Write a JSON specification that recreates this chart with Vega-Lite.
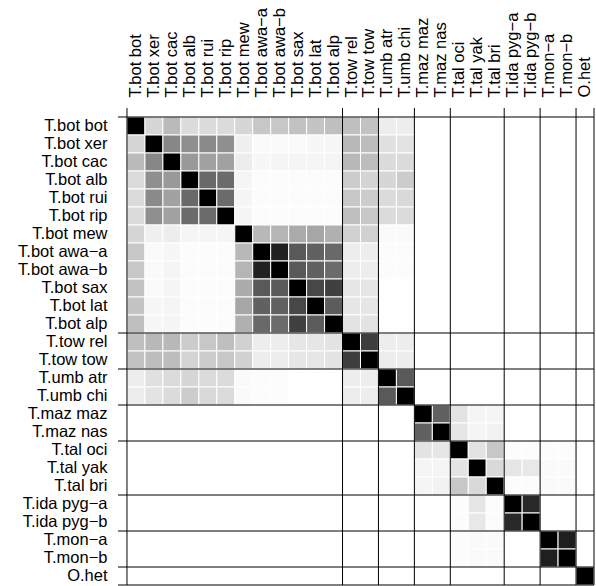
{
  "$schema": "https://vega.github.io/schema/vega-lite/v6.json",
  "autosize": "none",
  "padding": {"left": 118, "top": 108, "right": 2, "bottom": 1},
  "width": 476,
  "height": 477,
  "background": "white",
  "config": {
    "view": {"stroke": null},
    "axis": {"ticks": false, "domain": false, "grid": false, "labelFont": "Liberation Sans", "labelFontSize": 16.5, "labelColor": "black", "labelPadding": 11, "title": null, "labelOverlap": false, "labelLimit": 0}
  },
  "datasets": {
    "cells": [
      {"r":"T.bot bot","c":"T.bot bot","v":1},{"r":"T.bot bot","c":"T.bot xer","v":0.16},{"r":"T.bot bot","c":"T.bot cac","v":0.27},{"r":"T.bot bot","c":"T.bot alb","v":0.14},{"r":"T.bot bot","c":"T.bot rui","v":0.14},{"r":"T.bot bot","c":"T.bot rip","v":0.14},{"r":"T.bot bot","c":"T.bot mew","v":0.16},{"r":"T.bot bot","c":"T.bot awa−a","v":0.22},{"r":"T.bot bot","c":"T.bot awa−b","v":0.22},{"r":"T.bot bot","c":"T.bot sax","v":0.24},{"r":"T.bot bot","c":"T.bot lat","v":0.23},{"r":"T.bot bot","c":"T.bot alp","v":0.25},{"r":"T.bot bot","c":"T.tow rel","v":0.25},{"r":"T.bot bot","c":"T.tow tow","v":0.24},{"r":"T.bot bot","c":"T.umb atr","v":0.07},{"r":"T.bot bot","c":"T.umb chi","v":0.07},
      {"r":"T.bot xer","c":"T.bot bot","v":0.16},{"r":"T.bot xer","c":"T.bot xer","v":1},{"r":"T.bot xer","c":"T.bot cac","v":0.47},{"r":"T.bot xer","c":"T.bot alb","v":0.44},{"r":"T.bot xer","c":"T.bot rui","v":0.46},{"r":"T.bot xer","c":"T.bot rip","v":0.44},{"r":"T.bot xer","c":"T.bot mew","v":0.06},{"r":"T.bot xer","c":"T.bot awa−a","v":0.02},{"r":"T.bot xer","c":"T.bot awa−b","v":0.02},{"r":"T.bot xer","c":"T.bot sax","v":0.02},{"r":"T.bot xer","c":"T.bot lat","v":0.03},{"r":"T.bot xer","c":"T.bot alp","v":0.03},{"r":"T.bot xer","c":"T.tow rel","v":0.28},{"r":"T.bot xer","c":"T.tow tow","v":0.26},{"r":"T.bot xer","c":"T.umb atr","v":0.12},{"r":"T.bot xer","c":"T.umb chi","v":0.11},
      {"r":"T.bot cac","c":"T.bot bot","v":0.27},{"r":"T.bot cac","c":"T.bot xer","v":0.47},{"r":"T.bot cac","c":"T.bot cac","v":1},{"r":"T.bot cac","c":"T.bot alb","v":0.40},{"r":"T.bot cac","c":"T.bot rui","v":0.37},{"r":"T.bot cac","c":"T.bot rip","v":0.37},{"r":"T.bot cac","c":"T.bot mew","v":0.07},{"r":"T.bot cac","c":"T.bot awa−a","v":0.03},{"r":"T.bot cac","c":"T.bot awa−b","v":0.04},{"r":"T.bot cac","c":"T.bot sax","v":0.04},{"r":"T.bot cac","c":"T.bot lat","v":0.04},{"r":"T.bot cac","c":"T.bot alp","v":0.04},{"r":"T.bot cac","c":"T.tow rel","v":0.28},{"r":"T.bot cac","c":"T.tow tow","v":0.26},{"r":"T.bot cac","c":"T.umb atr","v":0.14},{"r":"T.bot cac","c":"T.umb chi","v":0.14},
      {"r":"T.bot alb","c":"T.bot bot","v":0.14},{"r":"T.bot alb","c":"T.bot xer","v":0.44},{"r":"T.bot alb","c":"T.bot cac","v":0.40},{"r":"T.bot alb","c":"T.bot alb","v":1},{"r":"T.bot alb","c":"T.bot rui","v":0.59},{"r":"T.bot alb","c":"T.bot rip","v":0.58},{"r":"T.bot alb","c":"T.bot mew","v":0.04},{"r":"T.bot alb","c":"T.bot awa−a","v":0.01},{"r":"T.bot alb","c":"T.bot awa−b","v":0.01},{"r":"T.bot alb","c":"T.bot sax","v":0.01},{"r":"T.bot alb","c":"T.bot lat","v":0.01},{"r":"T.bot alb","c":"T.bot alp","v":0.01},{"r":"T.bot alb","c":"T.tow rel","v":0.20},{"r":"T.bot alb","c":"T.tow tow","v":0.17},{"r":"T.bot alb","c":"T.umb atr","v":0.16},{"r":"T.bot alb","c":"T.umb chi","v":0.20},
      {"r":"T.bot rui","c":"T.bot bot","v":0.14},{"r":"T.bot rui","c":"T.bot xer","v":0.46},{"r":"T.bot rui","c":"T.bot cac","v":0.37},{"r":"T.bot rui","c":"T.bot alb","v":0.59},{"r":"T.bot rui","c":"T.bot rui","v":1},{"r":"T.bot rui","c":"T.bot rip","v":0.58},{"r":"T.bot rui","c":"T.bot mew","v":0.04},{"r":"T.bot rui","c":"T.bot awa−a","v":0.01},{"r":"T.bot rui","c":"T.bot awa−b","v":0.01},{"r":"T.bot rui","c":"T.bot sax","v":0.01},{"r":"T.bot rui","c":"T.bot lat","v":0.01},{"r":"T.bot rui","c":"T.bot alp","v":0.01},{"r":"T.bot rui","c":"T.tow rel","v":0.22},{"r":"T.bot rui","c":"T.tow tow","v":0.20},{"r":"T.bot rui","c":"T.umb atr","v":0.14},{"r":"T.bot rui","c":"T.umb chi","v":0.15},
      {"r":"T.bot rip","c":"T.bot bot","v":0.14},{"r":"T.bot rip","c":"T.bot xer","v":0.44},{"r":"T.bot rip","c":"T.bot cac","v":0.37},{"r":"T.bot rip","c":"T.bot alb","v":0.58},{"r":"T.bot rip","c":"T.bot rui","v":0.58},{"r":"T.bot rip","c":"T.bot rip","v":1},{"r":"T.bot rip","c":"T.bot mew","v":0.04},{"r":"T.bot rip","c":"T.bot awa−a","v":0.01},{"r":"T.bot rip","c":"T.bot awa−b","v":0.01},{"r":"T.bot rip","c":"T.bot sax","v":0.01},{"r":"T.bot rip","c":"T.bot lat","v":0.01},{"r":"T.bot rip","c":"T.bot alp","v":0.01},{"r":"T.bot rip","c":"T.tow rel","v":0.25},{"r":"T.bot rip","c":"T.tow tow","v":0.22},{"r":"T.bot rip","c":"T.umb atr","v":0.14},{"r":"T.bot rip","c":"T.umb chi","v":0.14},
      {"r":"T.bot mew","c":"T.bot bot","v":0.16},{"r":"T.bot mew","c":"T.bot xer","v":0.06},{"r":"T.bot mew","c":"T.bot cac","v":0.07},{"r":"T.bot mew","c":"T.bot alb","v":0.04},{"r":"T.bot mew","c":"T.bot rui","v":0.04},{"r":"T.bot mew","c":"T.bot rip","v":0.04},{"r":"T.bot mew","c":"T.bot mew","v":1},{"r":"T.bot mew","c":"T.bot awa−a","v":0.28},{"r":"T.bot mew","c":"T.bot awa−b","v":0.29},{"r":"T.bot mew","c":"T.bot sax","v":0.33},{"r":"T.bot mew","c":"T.bot lat","v":0.35},{"r":"T.bot mew","c":"T.bot alp","v":0.31},{"r":"T.bot mew","c":"T.tow rel","v":0.18},{"r":"T.bot mew","c":"T.tow tow","v":0.18},{"r":"T.bot mew","c":"T.umb atr","v":0.02},{"r":"T.bot mew","c":"T.umb chi","v":0.02},
      {"r":"T.bot awa−a","c":"T.bot bot","v":0.22},{"r":"T.bot awa−a","c":"T.bot xer","v":0.02},{"r":"T.bot awa−a","c":"T.bot cac","v":0.03},{"r":"T.bot awa−a","c":"T.bot alb","v":0.01},{"r":"T.bot awa−a","c":"T.bot rui","v":0.01},{"r":"T.bot awa−a","c":"T.bot rip","v":0.01},{"r":"T.bot awa−a","c":"T.bot mew","v":0.28},{"r":"T.bot awa−a","c":"T.bot awa−a","v":1},{"r":"T.bot awa−a","c":"T.bot awa−b","v":0.87},{"r":"T.bot awa−a","c":"T.bot sax","v":0.65},{"r":"T.bot awa−a","c":"T.bot lat","v":0.62},{"r":"T.bot awa−a","c":"T.bot alp","v":0.59},{"r":"T.bot awa−a","c":"T.tow rel","v":0.07},{"r":"T.bot awa−a","c":"T.tow tow","v":0.07},{"r":"T.bot awa−a","c":"T.umb atr","v":0.01},{"r":"T.bot awa−a","c":"T.umb chi","v":0.01},
      {"r":"T.bot awa−b","c":"T.bot bot","v":0.22},{"r":"T.bot awa−b","c":"T.bot xer","v":0.02},{"r":"T.bot awa−b","c":"T.bot cac","v":0.04},{"r":"T.bot awa−b","c":"T.bot alb","v":0.01},{"r":"T.bot awa−b","c":"T.bot rui","v":0.01},{"r":"T.bot awa−b","c":"T.bot rip","v":0.01},{"r":"T.bot awa−b","c":"T.bot mew","v":0.29},{"r":"T.bot awa−b","c":"T.bot awa−a","v":0.87},{"r":"T.bot awa−b","c":"T.bot awa−b","v":1},{"r":"T.bot awa−b","c":"T.bot sax","v":0.65},{"r":"T.bot awa−b","c":"T.bot lat","v":0.62},{"r":"T.bot awa−b","c":"T.bot alp","v":0.58},{"r":"T.bot awa−b","c":"T.tow rel","v":0.07},{"r":"T.bot awa−b","c":"T.tow tow","v":0.07},{"r":"T.bot awa−b","c":"T.umb atr","v":0.01},{"r":"T.bot awa−b","c":"T.umb chi","v":0.01},
      {"r":"T.bot sax","c":"T.bot bot","v":0.24},{"r":"T.bot sax","c":"T.bot xer","v":0.02},{"r":"T.bot sax","c":"T.bot cac","v":0.04},{"r":"T.bot sax","c":"T.bot alb","v":0.01},{"r":"T.bot sax","c":"T.bot rui","v":0.01},{"r":"T.bot sax","c":"T.bot rip","v":0.01},{"r":"T.bot sax","c":"T.bot mew","v":0.33},{"r":"T.bot sax","c":"T.bot awa−a","v":0.65},{"r":"T.bot sax","c":"T.bot awa−b","v":0.65},{"r":"T.bot sax","c":"T.bot sax","v":1},{"r":"T.bot sax","c":"T.bot lat","v":0.72},{"r":"T.bot sax","c":"T.bot alp","v":0.75},{"r":"T.bot sax","c":"T.tow rel","v":0.10},{"r":"T.bot sax","c":"T.tow tow","v":0.10},
      {"r":"T.bot lat","c":"T.bot bot","v":0.23},{"r":"T.bot lat","c":"T.bot xer","v":0.03},{"r":"T.bot lat","c":"T.bot cac","v":0.04},{"r":"T.bot lat","c":"T.bot alb","v":0.01},{"r":"T.bot lat","c":"T.bot rui","v":0.01},{"r":"T.bot lat","c":"T.bot rip","v":0.01},{"r":"T.bot lat","c":"T.bot mew","v":0.35},{"r":"T.bot lat","c":"T.bot awa−a","v":0.62},{"r":"T.bot lat","c":"T.bot awa−b","v":0.62},{"r":"T.bot lat","c":"T.bot sax","v":0.72},{"r":"T.bot lat","c":"T.bot lat","v":1},{"r":"T.bot lat","c":"T.bot alp","v":0.64},{"r":"T.bot lat","c":"T.tow rel","v":0.10},{"r":"T.bot lat","c":"T.tow tow","v":0.10},
      {"r":"T.bot alp","c":"T.bot bot","v":0.25},{"r":"T.bot alp","c":"T.bot xer","v":0.03},{"r":"T.bot alp","c":"T.bot cac","v":0.04},{"r":"T.bot alp","c":"T.bot alb","v":0.01},{"r":"T.bot alp","c":"T.bot rui","v":0.01},{"r":"T.bot alp","c":"T.bot rip","v":0.01},{"r":"T.bot alp","c":"T.bot mew","v":0.31},{"r":"T.bot alp","c":"T.bot awa−a","v":0.59},{"r":"T.bot alp","c":"T.bot awa−b","v":0.58},{"r":"T.bot alp","c":"T.bot sax","v":0.75},{"r":"T.bot alp","c":"T.bot lat","v":0.64},{"r":"T.bot alp","c":"T.bot alp","v":1},{"r":"T.bot alp","c":"T.tow rel","v":0.11},{"r":"T.bot alp","c":"T.tow tow","v":0.11},
      {"r":"T.tow rel","c":"T.bot bot","v":0.25},{"r":"T.tow rel","c":"T.bot xer","v":0.28},{"r":"T.tow rel","c":"T.bot cac","v":0.28},{"r":"T.tow rel","c":"T.bot alb","v":0.20},{"r":"T.tow rel","c":"T.bot rui","v":0.22},{"r":"T.tow rel","c":"T.bot rip","v":0.25},{"r":"T.tow rel","c":"T.bot mew","v":0.18},{"r":"T.tow rel","c":"T.bot awa−a","v":0.07},{"r":"T.tow rel","c":"T.bot awa−b","v":0.07},{"r":"T.tow rel","c":"T.bot sax","v":0.10},{"r":"T.tow rel","c":"T.bot lat","v":0.10},{"r":"T.tow rel","c":"T.bot alp","v":0.11},{"r":"T.tow rel","c":"T.tow rel","v":1},{"r":"T.tow rel","c":"T.tow tow","v":0.76},{"r":"T.tow rel","c":"T.umb atr","v":0.07},{"r":"T.tow rel","c":"T.umb chi","v":0.07},
      {"r":"T.tow tow","c":"T.bot bot","v":0.24},{"r":"T.tow tow","c":"T.bot xer","v":0.26},{"r":"T.tow tow","c":"T.bot cac","v":0.26},{"r":"T.tow tow","c":"T.bot alb","v":0.17},{"r":"T.tow tow","c":"T.bot rui","v":0.20},{"r":"T.tow tow","c":"T.bot rip","v":0.22},{"r":"T.tow tow","c":"T.bot mew","v":0.18},{"r":"T.tow tow","c":"T.bot awa−a","v":0.07},{"r":"T.tow tow","c":"T.bot awa−b","v":0.07},{"r":"T.tow tow","c":"T.bot sax","v":0.10},{"r":"T.tow tow","c":"T.bot lat","v":0.10},{"r":"T.tow tow","c":"T.bot alp","v":0.11},{"r":"T.tow tow","c":"T.tow rel","v":0.76},{"r":"T.tow tow","c":"T.tow tow","v":1},{"r":"T.tow tow","c":"T.umb atr","v":0.07},{"r":"T.tow tow","c":"T.umb chi","v":0.07},
      {"r":"T.umb atr","c":"T.bot bot","v":0.07},{"r":"T.umb atr","c":"T.bot xer","v":0.12},{"r":"T.umb atr","c":"T.bot cac","v":0.14},{"r":"T.umb atr","c":"T.bot alb","v":0.16},{"r":"T.umb atr","c":"T.bot rui","v":0.14},{"r":"T.umb atr","c":"T.bot rip","v":0.14},{"r":"T.umb atr","c":"T.bot mew","v":0.02},{"r":"T.umb atr","c":"T.bot awa−a","v":0.01},{"r":"T.umb atr","c":"T.bot awa−b","v":0.01},{"r":"T.umb atr","c":"T.tow rel","v":0.07},{"r":"T.umb atr","c":"T.tow tow","v":0.07},{"r":"T.umb atr","c":"T.umb atr","v":1},{"r":"T.umb atr","c":"T.umb chi","v":0.65},
      {"r":"T.umb chi","c":"T.bot bot","v":0.07},{"r":"T.umb chi","c":"T.bot xer","v":0.11},{"r":"T.umb chi","c":"T.bot cac","v":0.14},{"r":"T.umb chi","c":"T.bot alb","v":0.20},{"r":"T.umb chi","c":"T.bot rui","v":0.15},{"r":"T.umb chi","c":"T.bot rip","v":0.14},{"r":"T.umb chi","c":"T.bot mew","v":0.02},{"r":"T.umb chi","c":"T.bot awa−a","v":0.01},{"r":"T.umb chi","c":"T.bot awa−b","v":0.01},{"r":"T.umb chi","c":"T.tow rel","v":0.07},{"r":"T.umb chi","c":"T.tow tow","v":0.07},{"r":"T.umb chi","c":"T.umb atr","v":0.65},{"r":"T.umb chi","c":"T.umb chi","v":1},
      {"r":"T.maz maz","c":"T.maz maz","v":1},{"r":"T.maz maz","c":"T.maz nas","v":0.62},{"r":"T.maz maz","c":"T.tal oci","v":0.11},{"r":"T.maz maz","c":"T.tal yak","v":0.04},{"r":"T.maz maz","c":"T.tal bri","v":0.04},
      {"r":"T.maz nas","c":"T.maz maz","v":0.62},{"r":"T.maz nas","c":"T.maz nas","v":1},{"r":"T.maz nas","c":"T.tal oci","v":0.10},{"r":"T.maz nas","c":"T.tal yak","v":0.04},{"r":"T.maz nas","c":"T.tal bri","v":0.05},
      {"r":"T.tal oci","c":"T.maz maz","v":0.11},{"r":"T.tal oci","c":"T.maz nas","v":0.10},{"r":"T.tal oci","c":"T.tal oci","v":1},{"r":"T.tal oci","c":"T.tal yak","v":0.11},{"r":"T.tal oci","c":"T.tal bri","v":0.22},{"r":"T.tal oci","c":"T.ida pyg−a","v":0.01},{"r":"T.tal oci","c":"T.ida pyg−b","v":0.01},{"r":"T.tal oci","c":"T.mon−a","v":0.01},{"r":"T.tal oci","c":"T.mon−b","v":0.01},
      {"r":"T.tal yak","c":"T.maz maz","v":0.04},{"r":"T.tal yak","c":"T.maz nas","v":0.04},{"r":"T.tal yak","c":"T.tal oci","v":0.11},{"r":"T.tal yak","c":"T.tal yak","v":1},{"r":"T.tal yak","c":"T.tal bri","v":0.15},{"r":"T.tal yak","c":"T.ida pyg−a","v":0.10},{"r":"T.tal yak","c":"T.ida pyg−b","v":0.09},{"r":"T.tal yak","c":"T.mon−a","v":0.02},{"r":"T.tal yak","c":"T.mon−b","v":0.02},
      {"r":"T.tal bri","c":"T.maz maz","v":0.04},{"r":"T.tal bri","c":"T.maz nas","v":0.05},{"r":"T.tal bri","c":"T.tal oci","v":0.22},{"r":"T.tal bri","c":"T.tal yak","v":0.15},{"r":"T.tal bri","c":"T.tal bri","v":1},{"r":"T.tal bri","c":"T.ida pyg−a","v":0.01},{"r":"T.tal bri","c":"T.ida pyg−b","v":0.01},{"r":"T.tal bri","c":"T.mon−a","v":0.02},{"r":"T.tal bri","c":"T.mon−b","v":0.02},
      {"r":"T.ida pyg−a","c":"T.tal oci","v":0.01},{"r":"T.ida pyg−a","c":"T.tal yak","v":0.10},{"r":"T.ida pyg−a","c":"T.tal bri","v":0.01},{"r":"T.ida pyg−a","c":"T.ida pyg−a","v":1},{"r":"T.ida pyg−a","c":"T.ida pyg−b","v":0.84},
      {"r":"T.ida pyg−b","c":"T.tal oci","v":0.01},{"r":"T.ida pyg−b","c":"T.tal yak","v":0.09},{"r":"T.ida pyg−b","c":"T.tal bri","v":0.01},{"r":"T.ida pyg−b","c":"T.ida pyg−a","v":0.84},{"r":"T.ida pyg−b","c":"T.ida pyg−b","v":1},
      {"r":"T.mon−a","c":"T.tal oci","v":0.01},{"r":"T.mon−a","c":"T.tal yak","v":0.02},{"r":"T.mon−a","c":"T.tal bri","v":0.02},{"r":"T.mon−a","c":"T.mon−a","v":1},{"r":"T.mon−a","c":"T.mon−b","v":0.88},
      {"r":"T.mon−b","c":"T.tal oci","v":0.01},{"r":"T.mon−b","c":"T.tal yak","v":0.02},{"r":"T.mon−b","c":"T.tal bri","v":0.02},{"r":"T.mon−b","c":"T.mon−a","v":0.88},{"r":"T.mon−b","c":"T.mon−b","v":1},
      {"r":"O.het","c":"O.het","v":1}
    ],
    "groups": [
      {"n":"T.bot bot"},{"n":"T.tow rel"},{"n":"T.umb atr"},{"n":"T.maz maz"},{"n":"T.tal oci"},{"n":"T.ida pyg−a"},{"n":"T.mon−a"},{"n":"O.het"}
    ],
    "last": [{"n":"O.het"}]
  },
  "layer": [
    {
      "data": {"name": "cells"},
      "mark": {"type": "rect", "stroke": "white", "strokeWidth": 1},
      "encoding": {
        "x": {"field": "c", "type": "nominal", "axis": {"orient": "top", "labelAngle": -90},
          "scale": {"domain": ["T.bot bot","T.bot xer","T.bot cac","T.bot alb","T.bot rui","T.bot rip","T.bot mew","T.bot awa−a","T.bot awa−b","T.bot sax","T.bot lat","T.bot alp","T.tow rel","T.tow tow","T.umb atr","T.umb chi","T.maz maz","T.maz nas","T.tal oci","T.tal yak","T.tal bri","T.ida pyg−a","T.ida pyg−b","T.mon−a","T.mon−b","O.het"], "paddingInner": 0, "paddingOuter": 0.25, "align": 1, "round": false}},
        "y": {"field": "r", "type": "nominal", "axis": {"orient": "left"},
          "scale": {"domain": ["T.bot bot","T.bot xer","T.bot cac","T.bot alb","T.bot rui","T.bot rip","T.bot mew","T.bot awa−a","T.bot awa−b","T.bot sax","T.bot lat","T.bot alp","T.tow rel","T.tow tow","T.umb atr","T.umb chi","T.maz maz","T.maz nas","T.tal oci","T.tal yak","T.tal bri","T.ida pyg−a","T.ida pyg−b","T.mon−a","T.mon−b","O.het"], "paddingInner": 0, "paddingOuter": 0.25, "align": 1, "round": false}},
        "color": {"field": "v", "type": "quantitative", "scale": {"domain": [0, 1], "range": ["#ffffff", "#000000"], "interpolate": "rgb"}, "legend": null}
      }
    },
    {
      "data": {"name": "groups"},
      "mark": {"type": "rule", "color": "black", "strokeWidth": 1},
      "encoding": {"x": {"field": "n", "type": "nominal", "bandPosition": 0, "axis": {"orient": "top", "labelAngle": -90}}}
    },
    {
      "data": {"name": "last"},
      "mark": {"type": "rule", "color": "black", "strokeWidth": 1},
      "encoding": {"x": {"field": "n", "type": "nominal", "bandPosition": 1, "axis": {"orient": "top", "labelAngle": -90}}}
    },
    {
      "data": {"name": "groups"},
      "mark": {"type": "rule", "color": "black", "strokeWidth": 1},
      "encoding": {"y": {"field": "n", "type": "nominal", "bandPosition": 0, "axis": {"orient": "left"}}}
    },
    {
      "data": {"name": "last"},
      "mark": {"type": "rule", "color": "black", "strokeWidth": 1},
      "encoding": {"y": {"field": "n", "type": "nominal", "bandPosition": 1, "axis": {"orient": "left"}}}
    }
  ]
}
